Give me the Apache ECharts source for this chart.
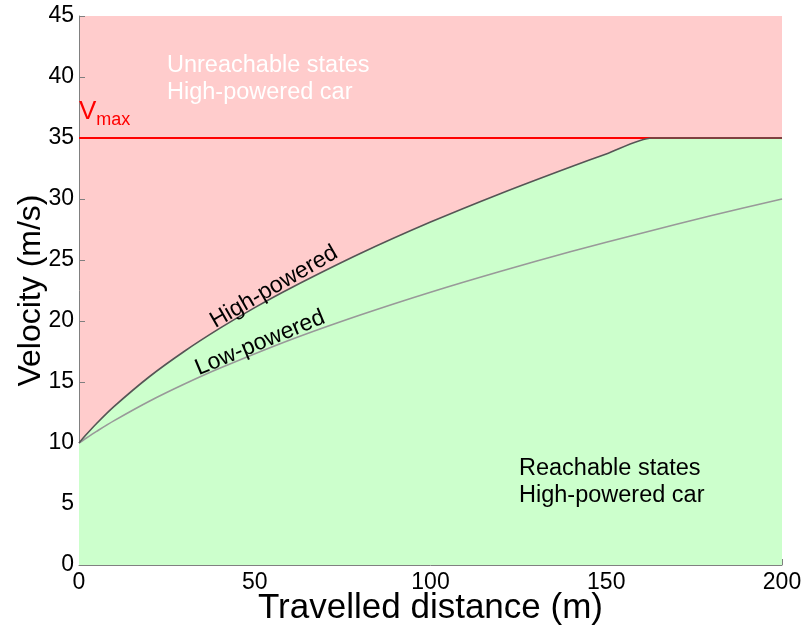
<!DOCTYPE html>
<html>
<head>
<meta charset="utf-8">
<script src="https://cdn.jsdelivr.net/npm/echarts@6/dist/echarts.min.js"></script>
<style>html,body{margin:0;padding:0;background:#fff;}#c{width:802px;height:628px;}</style>
</head>
<body>
<div id="c"></div>
<script>
// Distance (m) and velocity (m/s)
var highX = [0, 2, 5, 10, 20, 30, 40, 50, 60, 80, 100, 120, 140, 150, 163, 180, 200];
var highV = [10, 10.67, 11.6, 13.0, 15.43, 17.52, 19.39, 21.1, 22.67, 25.53, 28.11, 30.46, 32.65, 33.69, 35, 35, 35];
var lowX = [0, 2, 5, 10, 20, 30, 40, 60, 80, 100, 120, 140, 160, 180, 200];
var lowV = [10, 10.39, 10.95, 11.83, 13.42, 14.83, 16.12, 18.44, 20.49, 22.36, 24.08, 25.69, 27.2, 28.64, 30.0];
var vmaxX = [0, 200];
var vmaxV = [35, 35];
var xTicks = [0, 50, 100, 150, 200];
var yTicks = [0, 5, 10, 15, 20, 25, 30, 35, 40, 45];

var FONT = '"Liberation Sans", Arial, Helvetica, sans-serif';
function zip(a, b) { return a.map(function (v, i) { return [v, b[i]]; }); }

var chart = echarts.init(document.getElementById('c'), null, { renderer: 'canvas' });
var option = {
  animation: false,
  backgroundColor: '#ffffff',
  grid: { left: 79, right: 20, top: 16, bottom: 63, containLabel: false, outerBoundsMode: 'none', show: true, backgroundColor: '#ffcccc', borderWidth: 0 },
  xAxis: {
    type: 'value', min: xTicks[0], max: xTicks[xTicks.length - 1], interval: 50,
    name: 'Travelled distance (m)', nameLocation: 'middle', nameGap: 25, nameMoveOverlap: false,
    nameTextStyle: { fontFamily: FONT, fontSize: 35, color: '#000', lineHeight: 36 },
    axisLine: { show: true, lineStyle: { color: '#808080', width: 1 } },
    axisTick: { show: true, inside: true, length: 6, lineStyle: { color: '#808080' } },
    axisLabel: { fontFamily: FONT, fontSize: 23, color: '#000', margin: 6 },
    splitLine: { show: false }
  },
  yAxis: {
    type: 'value', min: yTicks[0], max: yTicks[yTicks.length - 1], interval: 5,
    name: 'Velocity (m/s)', nameLocation: 'middle', nameGap: 31, nameRotate: 90, nameMoveOverlap: false,
    nameTextStyle: { fontFamily: FONT, fontSize: 32, color: '#000', lineHeight: 33 },
    axisLine: { show: true, lineStyle: { color: '#808080', width: 1 } },
    axisTick: { show: true, inside: true, length: 6, lineStyle: { color: '#808080' } },
    axisLabel: { fontFamily: FONT, fontSize: 23, color: '#000', margin: 5 },
    splitLine: { show: false }
  },
  series: [
    {
      name: 'reach', type: 'line', data: zip(highX, highV), symbol: 'none', smooth: 0.25,
      lineStyle: { width: 0, opacity: 0 }, areaStyle: { color: '#ccffcc', opacity: 1, origin: 'start' }, z: 1, silent: true
    },
    {
      name: 'vmax', type: 'line', data: zip(vmaxX, vmaxV), symbol: 'none',
      lineStyle: { color: '#ff0000', width: 2 }, z: 2
    },
    {
      name: 'Low-powered', type: 'line', data: zip(lowX, lowV), symbol: 'none', smooth: 0.3,
      lineStyle: { color: '#999999', width: 1.6 }, z: 3
    },
    {
      name: 'High-powered', type: 'line', data: zip(highX, highV), symbol: 'none', smooth: 0.25,
      lineStyle: { color: '#555555', width: 1.6 }, z: 4
    }
  ],
  graphic: { elements: [
    { type: 'text', z: 100, x: 167, y: 52, style: { text: 'Unreachable states\nHigh-powered car', fill: '#ffffff', fontSize: 23.5, fontFamily: FONT, lineHeight: 27 } },
    { type: 'text', z: 100, x: 519, y: 455, style: { text: 'Reachable states\nHigh-powered car', fill: '#000000', fontSize: 23.5, fontFamily: FONT, lineHeight: 27 } },
    { type: 'text', z: 100, x: 79, y: 95, style: { text: '{v|V}{s|max}', rich: { v: { fontSize: 26, fontFamily: FONT, fill: '#ff0000' }, s: { fontSize: 18, fontFamily: FONT, fill: '#ff0000', padding: [16, 0, 0, 0] } } } },
    { type: 'text', z: 100, x: 274, y: 287, rotation: 30 * Math.PI / 180, style: { text: 'High-powered', fill: '#000000', fontSize: 23, fontFamily: FONT, align: 'center', verticalAlign: 'middle' } },
    { type: 'text', z: 100, x: 260, y: 343, rotation: 22.5 * Math.PI / 180, style: { text: 'Low-powered', fill: '#000000', fontSize: 23, fontFamily: FONT, align: 'center', verticalAlign: 'middle' } }
  ] }
};
chart.setOption(option);
</script>
</body>
</html>
